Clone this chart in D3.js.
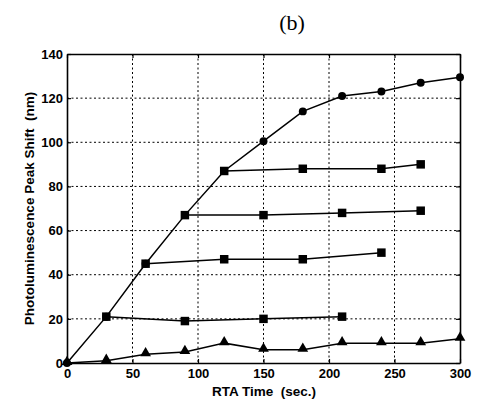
<!DOCTYPE html>
<html>
<head>
<meta charset="utf-8">
<script src="https://cdn.jsdelivr.net/npm/d3@7"></script>
<style>
body { margin: 0; background: #fff; }
text { font-family: "Liberation Sans", Arial, sans-serif; }
</style>
</head>
<body>
<svg id="chart" width="477" height="402"></svg>
<script>
// RTA time (sec.) and peak shifts (nm)
const circleX = [0, 30, 60, 90, 120, 150, 180, 210, 240, 270, 300];
const circleY = [0, 21, 45, 67, 87, 100.5, 114, 121, 123, 127, 129.5];

const sq1X = [120, 180, 240, 270];
const sq1Y = [87, 88, 88, 90];
const sq2X = [90, 150, 210, 270];
const sq2Y = [67, 67, 68, 69];
const sq3X = [60, 120, 180, 240];
const sq3Y = [45, 47, 47, 50];
const sq4X = [30, 90, 150, 210];
const sq4Y = [21, 19, 20, 21];

const triX = [0, 30, 60, 90, 120, 150, 180, 210, 240, 270, 300];
const triY = [0, 1, 4, 5, 9, 6, 6, 9, 9, 9, 11];

const xTicks = [0, 50, 100, 150, 200, 250, 300];
const yTicks = [0, 20, 40, 60, 80, 100, 120, 140];

const svg = d3.select("#chart");
const mLeft = 67, mRight = 460, mTop = 54, mBottom = 363;

const x = d3.scaleLinear().domain([0, 300]).range([mLeft, mRight]);
const y = d3.scaleLinear().domain([0, 140]).range([mBottom, mTop]);

// grid
svg.append("g").selectAll("line").data(xTicks.slice(1, -1)).enter().append("line")
    .attr("x1", d => x(d)).attr("x2", d => x(d))
    .attr("y1", mTop).attr("y2", mBottom)
    .attr("stroke", "#000").attr("stroke-width", 1).attr("stroke-dasharray", "2,2.5");
svg.append("g").selectAll("line").data(yTicks.slice(1, -1)).enter().append("line")
    .attr("x1", mLeft).attr("x2", mRight)
    .attr("y1", d => y(d)).attr("y2", d => y(d))
    .attr("stroke", "#000").attr("stroke-width", 1).attr("stroke-dasharray", "2,2.5");

// axes
svg.append("g").attr("transform", `translate(0,${mBottom})`)
    .call(d3.axisBottom(x).tickValues(xTicks).tickSizeInner(-4).tickSizeOuter(0).tickPadding(6));
svg.append("g").attr("transform", `translate(${mLeft},0)`)
    .call(d3.axisLeft(y).tickValues(yTicks).tickSizeInner(-4).tickSizeOuter(0).tickPadding(4));
svg.append("g").attr("transform", `translate(0,${mTop})`)
    .call(d3.axisTop(x).tickValues(xTicks).tickSizeInner(-4).tickSizeOuter(0).tickFormat(""));
svg.append("g").attr("transform", `translate(${mRight},0)`)
    .call(d3.axisRight(y).tickValues(yTicks).tickSizeInner(-4).tickSizeOuter(0).tickFormat(""));

svg.selectAll(".domain").attr("stroke", "#000").attr("stroke-width", 1.6);
svg.selectAll(".tick line").attr("stroke", "#000").attr("stroke-width", 1.2);
svg.selectAll(".tick text").attr("fill", "#000")
    .style("font-size", "13px").style("font-weight", "bold").style("font-family", "Liberation Sans, Arial, sans-serif");

// lines + markers
const line = d3.line().x(d => x(d[0])).y(d => y(d[1]));
function series(xs, ys, shape) {
    const pts = xs.map((v, i) => [v, ys[i]]);
    svg.append("path").datum(pts).attr("d", line)
        .attr("fill", "none").attr("stroke", "#000").attr("stroke-width", 1.5);
    const sym = shape === "circle" ? d3.symbol().type(d3.symbolCircle).size(50)
        : shape === "square" ? d3.symbol().type(d3.symbolSquare).size(72)
        : d3.symbol().type(d3.symbolTriangle).size(50);
    svg.append("g").selectAll("path").data(pts).enter().append("path")
        .attr("d", sym)
        .attr("transform", d => `translate(${x(d[0])},${y(d[1]) - (shape === "triangle" ? 1 : 0)})`)
        .attr("fill", "#000");
}
series(circleX, circleY, "circle");
series(sq1X, sq1Y, "square");
series(sq2X, sq2Y, "square");
series(sq3X, sq3Y, "square");
series(sq4X, sq4Y, "square");
series(triX, triY, "triangle");

// labels
svg.append("text").attr("x", 292).attr("y", 30).attr("text-anchor", "middle")
    .style("font-family", "Liberation Serif, Times New Roman, serif").style("font-size", "22px")
    .text("(b)");
svg.append("text").attr("x", 264).attr("y", 396).attr("text-anchor", "middle")
    .style("font-size", "13.5px").style("font-weight", "bold").attr("xml:space", "preserve")
    .text("RTA Time  (sec.)");
svg.append("text").attr("transform", `translate(34,${(mTop + mBottom) / 2}) rotate(-90)`)
    .attr("text-anchor", "middle")
    .style("font-size", "13.5px").style("font-weight", "bold").attr("xml:space", "preserve")
    .text("Photoluminescence Peak Shift  (nm)");
</script>
</body>
</html>
